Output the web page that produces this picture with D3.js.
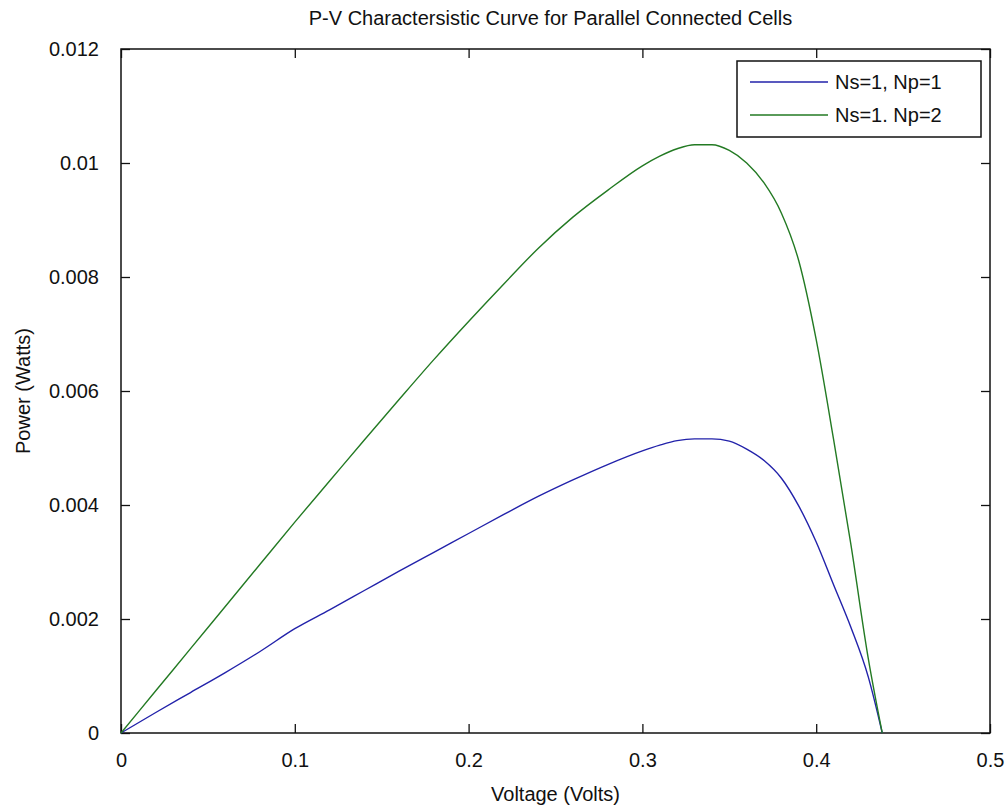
<!DOCTYPE html>
<html>
<head>
<meta charset="utf-8">
<script src="https://cdn.jsdelivr.net/npm/d3@7"></script>
<style>
    body { margin: 0; background: white; }
    text { font-family: "Liberation Sans", Arial, sans-serif; fill: #111; }
</style>
</head>
<body>
<svg id="chart" width="1006" height="808" viewBox="0 0 1006 808"></svg>
<script>
// data, voltage in volts, power in watts
const voltage = [0, 0.02, 0.04, 0.06, 0.08, 0.10, 0.12, 0.14, 0.16, 0.18, 0.20, 0.22, 0.24, 0.26, 0.28,
    0.30, 0.31, 0.32, 0.33, 0.34, 0.35, 0.36, 0.37, 0.38, 0.39, 0.40, 0.41, 0.42, 0.43, 0.438];
const powerNp1 = [0, 0.00036, 0.00071, 0.00106, 0.00143, 0.00183, 0.00216, 0.00250, 0.00284, 0.00317,
    0.00350, 0.00383, 0.00415, 0.00444, 0.00471, 0.00495, 0.00505, 0.00513, 0.00516, 0.00516,
    0.00512, 0.00498, 0.00478, 0.00447, 0.00398, 0.00335, 0.00260, 0.00185, 0.00098, 0];
const powerNp2 = [0, 0.00074, 0.00148, 0.00222, 0.00296, 0.00370, 0.00442, 0.00514, 0.00585, 0.00655,
    0.00722, 0.00787, 0.00850, 0.00905, 0.00952, 0.00995, 0.01012, 0.01025, 0.01032, 0.01032,
    0.01022, 0.01000, 0.00965, 0.00912, 0.00828, 0.00690, 0.00515, 0.00330, 0.00130, 0];

const seriesNames = ["Ns=1, Np=1", "Ns=1. Np=2"];
const seriesColors = ["#2222aa", "#237a23"];
const xTicks = [0, 0.1, 0.2, 0.3, 0.4, 0.5];
const yTicks = [0, 0.002, 0.004, 0.006, 0.008, 0.01, 0.012];
const xTickLabels = ["0", "0.1", "0.2", "0.3", "0.4", "0.5"];
const yTickLabels = ["0", "0.002", "0.004", "0.006", "0.008", "0.01", "0.012"];

const margins = {top: 49, right: 16, bottom: 75, left: 121};

function drawAxes(chart, xScale, yScale, left, top, width, height) {
    const tickLen = 9;

    // bottom + top ticks point inward, matlab style box
    chart.append("g")
        .attr("transform", `translate(${left},${top + height})`)
        .call(d3.axisBottom(xScale).tickValues(xTicks).tickSizeInner(-tickLen).tickSizeOuter(0)
            .tickFormat((d, i) => xTickLabels[i]).tickPadding(20))
        .call(g => g.select(".domain").remove());

    chart.append("g")
        .attr("transform", `translate(${left},${top})`)
        .call(d3.axisTop(xScale).tickValues(xTicks).tickSizeInner(-tickLen).tickSizeOuter(0).tickFormat(""))
        .call(g => g.select(".domain").remove());

    chart.append("g")
        .attr("transform", `translate(${left},${top})`)
        .call(d3.axisLeft(yScale).tickValues(yTicks).tickSizeInner(-tickLen).tickSizeOuter(0)
            .tickFormat((d, i) => yTickLabels[i]).tickPadding(22))
        .call(g => g.select(".domain").remove());

    chart.append("g")
        .attr("transform", `translate(${left + width},${top})`)
        .call(d3.axisRight(yScale).tickValues(yTicks).tickSizeInner(-tickLen).tickSizeOuter(0).tickFormat(""))
        .call(g => g.select(".domain").remove());

    chart.selectAll(".tick line").attr("stroke", "#111").attr("stroke-width", 1.3);
    chart.selectAll(".tick text").style("font-size", "20px").attr("fill", "#111");

    // box around plot
    chart.append("rect")
        .attr("x", left)
        .attr("y", top)
        .attr("width", width)
        .attr("height", height)
        .attr("fill", "none")
        .attr("stroke", "#111")
        .attr("stroke-width", 1.5);
}

function drawLegend(chart, x, y) {
    let w = 244, h = 76;
    chart.append("rect")
        .attr("x", x)
        .attr("y", y)
        .attr("width", w)
        .attr("height", h)
        .attr("fill", "white")
        .attr("stroke", "#111")
        .attr("stroke-width", 1.5);

    for (let i = 0; i < seriesNames.length; i++) {
        let ly = y + 21 + i * 33;
        chart.append("line")
            .attr("x1", x + 13)
            .attr("x2", x + 91)
            .attr("y1", ly)
            .attr("y2", ly)
            .attr("stroke", seriesColors[i])
            .attr("stroke-width", 1.4);
        chart.append("text")
            .attr("x", x + 98)
            .attr("y", ly + 7)
            .style("font-size", "20px")
            .text(seriesNames[i]);
    }
}

function pvChart(id) {
    let svg = document.getElementById(id);
    let totalWidth = svg.viewBox.baseVal.width;
    let totalHeight = svg.viewBox.baseVal.height;
    let innerWidth = totalWidth - margins.left - margins.right;
    let innerHeight = totalHeight - margins.top - margins.bottom;

    let xScale = d3.scaleLinear([0, 0.5], [0, innerWidth]);
    let yScale = d3.scaleLinear([0, 0.012], [innerHeight, 0]);

    let chart = d3.select("#" + id);

    chart.append("rect")
        .attr("width", totalWidth)
        .attr("height", totalHeight)
        .attr("fill", "white");

    drawAxes(chart, xScale, yScale, margins.left, margins.top, innerWidth, innerHeight);

    let line = d3.line()
        .curve(d3.curveMonotoneX)
        .x(d => xScale(d[0]))
        .y(d => yScale(d[1]));

    let series = [powerNp1, powerNp2];
    let plot = chart.append("g")
        .attr("transform", `translate(${margins.left},${margins.top})`);

    series.forEach((vals, i) => {
        plot.append("path")
            .datum(voltage.map((v, j) => [v, vals[j]]))
            .attr("d", line)
            .attr("fill", "none")
            .attr("stroke", seriesColors[i])
            .attr("stroke-width", 1.4);
    });

    drawLegend(chart, 737, 61);

    // titles
    chart.append("text")
        .attr("x", margins.left + innerWidth / 2 - 5)
        .attr("y", 25)
        .attr("text-anchor", "middle")
        .style("font-size", "20px")
        .text("P-V Charactersistic Curve for Parallel Connected Cells");

    chart.append("text")
        .attr("x", margins.left + innerWidth / 2)
        .attr("y", 801)
        .attr("text-anchor", "middle")
        .style("font-size", "20px")
        .text("Voltage (Volts)");

    chart.append("text")
        .attr("transform", `translate(30,${margins.top + innerHeight / 2}) rotate(-90)`)
        .attr("text-anchor", "middle")
        .style("font-size", "20px")
        .text("Power (Watts)");
}

pvChart("chart");
</script>
</body>
</html>
